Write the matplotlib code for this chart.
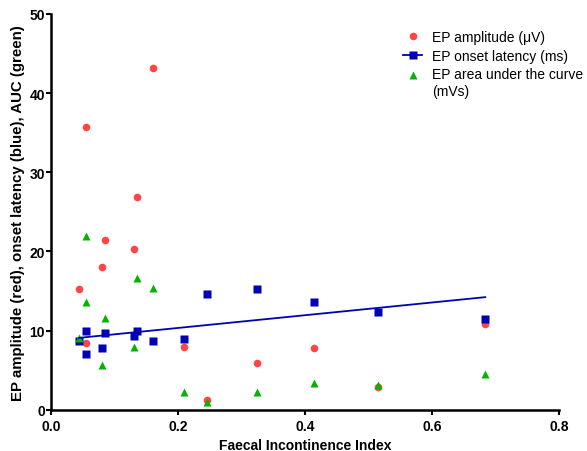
import numpy as np
from matplotlib import pyplot as plt
from matplotlib.lines import Line2D
from matplotlib.legend_handler import HandlerLine2D

plt.rcParams['font.family'] = ['Liberation Sans', 'DejaVu Sans']

# Faecal incontinence index for each subject
fii = [0.044, 0.055, 0.055, 0.080, 0.085, 0.130, 0.135, 0.160,
       0.209, 0.245, 0.324, 0.414, 0.5145, 0.684]
amplitude = [15.2, 35.7, 8.4, 18.0, 21.5, 20.3, 26.9, 43.2,
             7.9, 1.26, 5.9, 7.76, 2.9, 10.8]
latency = [8.65, 10.0, 7.1, 7.8, 9.66, 9.3, 10.0, 8.65,
           9.0, 14.6, 15.2, 13.65, 12.4, 11.5]
auc = [9.06, 21.9, 13.6, 5.65, 11.55, 8.0, 16.6, 15.4,
       2.2, 1.0, 2.2, 3.34, 3.16, 4.5]

red = '#ff4545'
blue = '#0000b4'
green = '#00b400'


class TopLineHandler(HandlerLine2D):
    # put the marker next to the first line of a two-line label
    def create_artists(self, legend, orig_handle, xdescent, ydescent,
                       width, height, fontsize, trans):
        return super().create_artists(legend, orig_handle, xdescent, ydescent - 12,
                                      width, height, fontsize, trans)


fig = plt.figure(figsize=(5.87, 4.52), dpi=100)
ax = fig.add_axes([0.087, 0.091, 0.865, 0.876])

ax.plot(fii, amplitude, 'o', color=red, ms=5.5, mec='none')
ax.plot(fii, latency, 's', color=blue, ms=6, mec='none')
ax.plot(fii, auc, '^', color=green, ms=5.5, mec='none')

# linear regression of onset latency
slope, icpt = np.polyfit(fii, latency, 1)
xs = np.array([min(fii), max(fii)])
ax.plot(xs, slope * xs + icpt, color=blue, lw=1.3)

ax.set_xlim(0, 0.8)
ax.set_ylim(0, 50)
ax.set_xticks([0.0, 0.2, 0.4, 0.6, 0.8])
ax.set_yticks([0, 10, 20, 30, 40, 50])
ax.set_xticklabels(['0.0', '0.2', '0.4', '0.6', '0.8'])
for s in ['top', 'right']:
    ax.spines[s].set_visible(False)
for s in ['left', 'bottom']:
    ax.spines[s].set_linewidth(1.8)
ax.tick_params(width=1.5, length=3.5, labelsize=10, pad=1)
ax.tick_params(axis='x', pad=3)
for lab in ax.get_xticklabels() + ax.get_yticklabels():
    lab.set_fontweight('bold')

ax.set_xlabel('Faecal Incontinence Index', fontsize=10, fontweight='bold', labelpad=4)
ax.set_ylabel('EP amplitude (red), onset latency (blue), AUC (green)',
              fontsize=10.8, fontweight='bold', labelpad=3)

handles = [Line2D([], [], ls='none', marker='o', color=red, ms=5.5, mec='none'),
           Line2D([], [], ls='-', marker='s', color=blue, ms=5.5, mec='none', lw=1.3),
           Line2D([], [], ls='none', marker='^', color=green, ms=5.5, mec='none')]
labels = ['EP amplitude (\u03bcV)', 'EP onset latency (ms)', 'EP area under the curve\n(mVs)']
leg = ax.legend(handles, labels, loc='upper left', bbox_to_anchor=(0.693, 0.96),
                frameon=False, fontsize=10, handlelength=1.4, handletextpad=0.7,
                labelspacing=0.35, borderaxespad=0, borderpad=0,
                handler_map={handles[2]: TopLineHandler()})
for t in leg.get_texts():
    t.set_linespacing(1.25)

fig.savefig('out.png', dpi=100)
